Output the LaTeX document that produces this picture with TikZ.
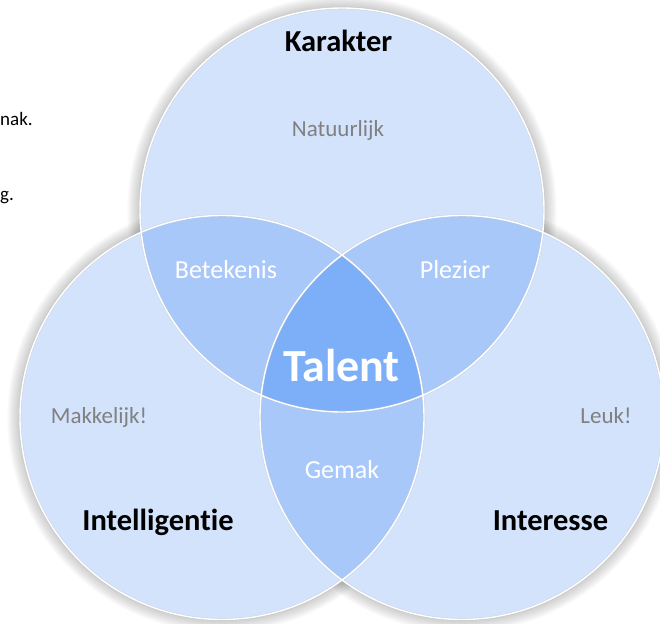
\documentclass[tikz,border=0pt]{standalone}
\usepackage{fontspec}
\setmainfont[RawFeature={-liga}]{Carlito}
\definecolor{circfill}{HTML}{D4E3FC}
\definecolor{pairfill}{HTML}{A9C8FA}
\definecolor{corefill}{HTML}{7DAEF8}
\definecolor{softgray}{HTML}{808080}
\tikzset{
  title/.style={anchor=base, inner sep=0pt, text=black, font=\fontsize{30.5}{36}\selectfont\bfseries},
  zone/.style={anchor=base, inner sep=0pt, text=white, font=\fontsize{26}{30}\selectfont},
  outer/.style={anchor=base, inner sep=0pt, text=softgray, font=\fontsize{23}{28}\selectfont},
  core/.style={anchor=base, inner sep=0pt, text=white, font=\fontsize{46}{52}\selectfont\bfseries},
  margin/.style={anchor=base west, inner sep=0pt, text=black, font=\fontsize{19}{23}\selectfont},
  rim/.style={draw=white, line width=1.4pt},
  rimshade/.style={draw=black!25, line width=2.6pt},
}
\begin{document}
\begin{tikzpicture}[x=1pt,y=-1pt]
\useasboundingbox (0,0) rectangle (660,623);
\coordinate (top) at (342,210);
\coordinate (lft) at (222,417.5);
\coordinate (rgt) at (462,417.5);
% soft outer shadow
\foreach \c in {top,lft,rgt}{
  \foreach \i in {1,...,9}{
    \fill[black, opacity=0.025] (\c) circle ({202+1.4*\i});
  }
}
% base fills
\foreach \c in {top,lft,rgt}{ \fill[circfill] (\c) circle (202); }
% pairwise overlaps
\begin{scope}
  \clip (top) circle (202);
  \fill[pairfill] (lft) circle (202);
  \fill[pairfill] (rgt) circle (202);
\end{scope}
\begin{scope}
  \clip (lft) circle (202);
  \fill[pairfill] (rgt) circle (202);
\end{scope}
% triple overlap
\begin{scope}
  \clip (top) circle (202);
  \clip (lft) circle (202);
  \fill[corefill] (rgt) circle (202);
\end{scope}
% rims
\foreach \c in {top,lft,rgt}{ \draw[rimshade, opacity=0.35] (\c) circle (202); }
\foreach \c in {top,lft,rgt}{ \draw[rim] (\c) circle (202); }
% labels
\node[title] (karakter) at (338.5,52) {Karakter};
\node[outer] (natuurlijk) at (338,136) {Natuurlijk};
\node[zone] (betekenis) at (226,278) {Betekenis};
\node[zone] (plezier) at (455,278) {Plezier};
\node[core] (talent) at (341.5,381) {Talent};
\node[outer] (makkelijk) at (99,423) {Makkelijk!};
\node[outer] (leuk) at (606,423) {Leuk!};
\node[zone] (gemak) at (342,478) {Gemak};
\node[title] (intelligentie) at (158,530) {Intelligentie};
\node[title] (interesse) at (550.5,530) {Interesse};
\node[margin] (nak) at (0,125) {nak.};
\node[margin] (gdot) at (0,200) {g.};
\end{tikzpicture}
\end{document}
